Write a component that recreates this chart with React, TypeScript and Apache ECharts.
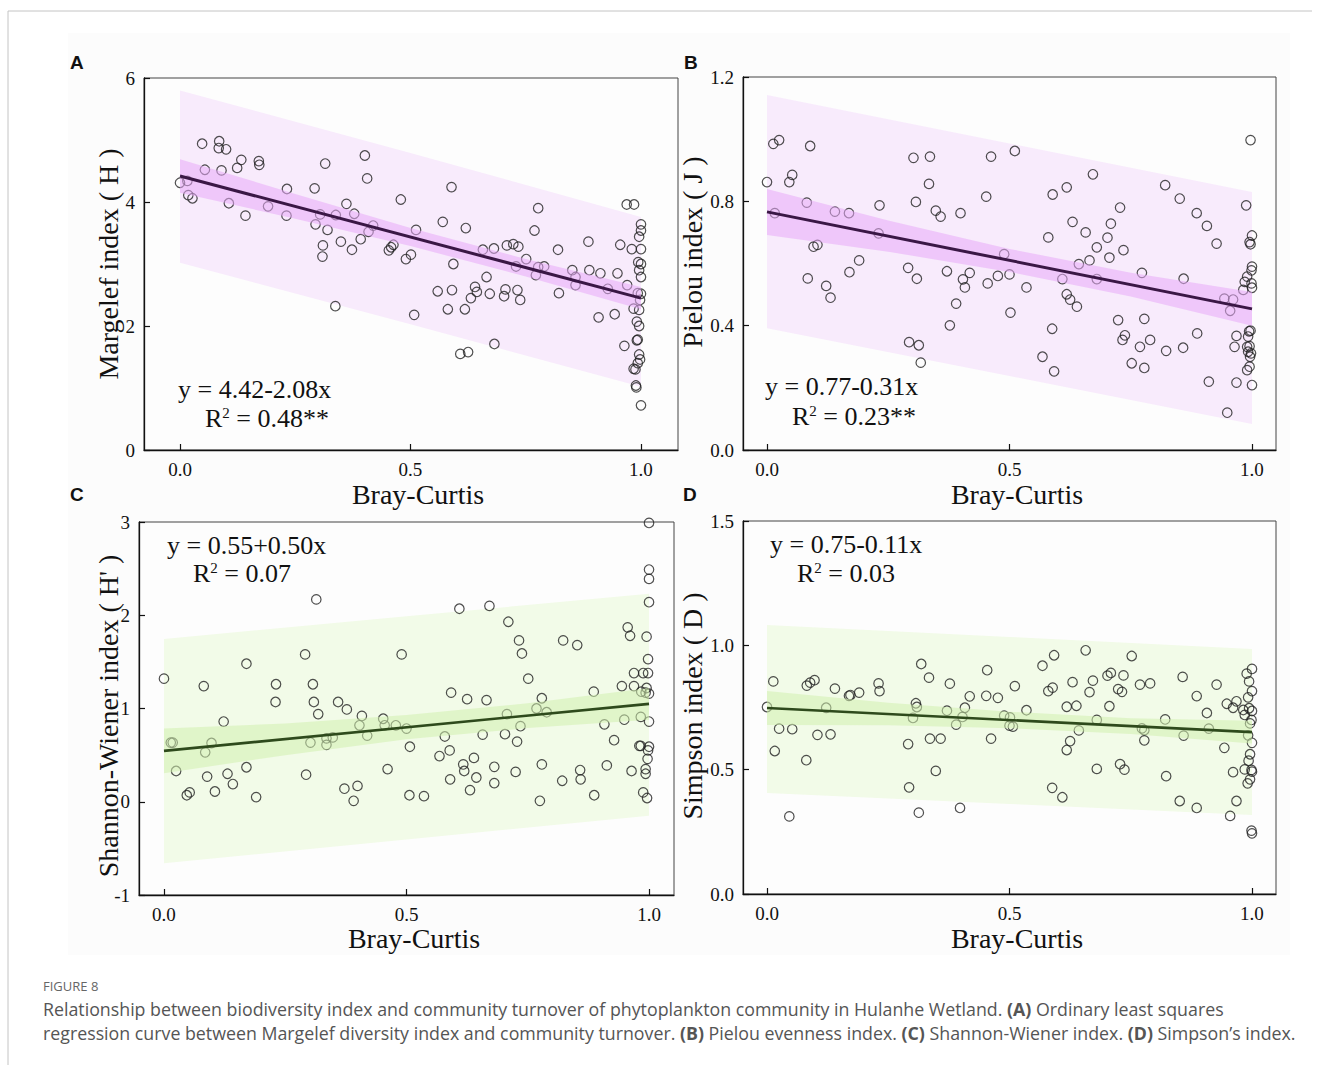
import React, { useEffect, useRef } from "react";
import * as echarts from "echarts";

// ---------- data ----------
const xTicks = [0, 0.5, 1];

const scatterA: number[][] = [
  [0.0, 4.31], [0.016, 4.34], [0.018, 4.11], [0.027, 4.06], [0.048, 4.94], [0.054, 4.52], [0.085, 4.98], [0.084, 4.87],
  [0.1, 4.85], [0.09, 4.51], [0.106, 3.98], [0.124, 4.55], [0.133, 4.68], [0.142, 3.78], [0.171, 4.66], [0.172, 4.6],
  [0.191, 3.93], [0.232, 4.21], [0.231, 3.78], [0.292, 4.22], [0.294, 3.64], [0.304, 3.8], [0.315, 4.62], [0.32, 3.55],
  [0.31, 3.3], [0.309, 3.12], [0.337, 2.32], [0.338, 3.79], [0.349, 3.36], [0.361, 3.97], [0.373, 3.23], [0.378, 3.81],
  [0.392, 3.4], [0.401, 4.75], [0.406, 4.38], [0.409, 3.52], [0.419, 3.62], [0.453, 3.22], [0.458, 3.27], [0.463, 3.31],
  [0.479, 4.04], [0.49, 3.08], [0.501, 3.15], [0.508, 2.18], [0.512, 3.55],
  [0.589, 4.24], [0.57, 3.68], [0.62, 3.58], [0.593, 3.0], [0.559, 2.56], [0.59, 2.58], [0.581, 2.27], [0.618, 2.27],
  [0.608, 1.55], [0.625, 1.58], [0.631, 2.45], [0.64, 2.63], [0.644, 2.55], [0.672, 2.52], [0.665, 2.79], [0.657, 3.23],
  [0.681, 3.25], [0.682, 1.71], [0.703, 2.48], [0.706, 2.59], [0.709, 3.3], [0.723, 3.32], [0.734, 3.28], [0.732, 2.58],
  [0.738, 2.42], [0.729, 2.96], [0.751, 3.08], [0.769, 3.54], [0.777, 3.9], [0.777, 2.95], [0.79, 2.96], [0.772, 2.82],
  [0.822, 2.53], [0.82, 3.23], [0.851, 2.9], [0.858, 2.79], [0.858, 2.66], [0.886, 3.36], [0.888, 2.9], [0.908, 2.14],
  [0.912, 2.85], [0.928, 2.6], [0.943, 2.19], [0.949, 2.85], [0.955, 3.31], [0.964, 1.68], [0.969, 3.96], [0.985, 3.96],
  [0.97, 2.66], [0.98, 3.24], [0.984, 2.28], [0.993, 2.53], [0.991, 2.07], [0.991, 1.77], [0.988, 1.3], [0.989, 1.04],
  [0.99, 1.01], [1.0, 0.72],
  [1.0, 3.64], [1.0, 3.54], [0.996, 3.44], [1.0, 3.24], [0.994, 3.03], [1.0, 3.0], [0.996, 2.9], [1.0, 2.79], [1.0, 2.52],
  [0.998, 2.42], [0.996, 2.26], [0.996, 2.0], [0.993, 1.78], [0.996, 1.54], [0.998, 1.46], [0.993, 1.4], [0.984, 1.31],
];

const scatterB: number[][] = [
  [0.0, 0.862], [0.013, 0.985], [0.025, 0.997], [0.016, 0.762], [0.046, 0.862], [0.052, 0.885], [0.089, 0.978], [0.082, 0.796],
  [0.096, 0.654], [0.104, 0.66], [0.084, 0.552], [0.122, 0.528], [0.131, 0.49], [0.14, 0.767], [0.169, 0.762], [0.17, 0.572],
  [0.19, 0.61], [0.232, 0.787], [0.23, 0.697], [0.291, 0.586], [0.293, 0.347], [0.313, 0.337], [0.317, 0.281], [0.302, 0.94],
  [0.336, 0.944], [0.334, 0.856], [0.307, 0.798], [0.309, 0.551], [0.348, 0.77], [0.358, 0.751], [0.371, 0.575], [0.377, 0.401],
  [0.39, 0.471], [0.399, 0.762], [0.404, 0.549], [0.408, 0.523], [0.418, 0.57], [0.455, 0.536], [0.452, 0.815], [0.462, 0.944],
  [0.476, 0.56], [0.489, 0.63], [0.5, 0.565], [0.502, 0.442],
  [0.511, 0.962], [0.535, 0.523], [0.568, 0.3], [0.58, 0.684], [0.589, 0.822], [0.588, 0.39], [0.592, 0.253], [0.609, 0.55],
  [0.618, 0.845], [0.618, 0.501], [0.625, 0.484], [0.639, 0.461], [0.63, 0.734], [0.643, 0.598], [0.657, 0.7], [0.665, 0.61],
  [0.672, 0.887], [0.68, 0.652], [0.68, 0.55], [0.702, 0.683], [0.706, 0.619], [0.709, 0.728], [0.728, 0.78], [0.735, 0.643],
  [0.724, 0.418], [0.733, 0.354], [0.738, 0.369], [0.752, 0.279], [0.769, 0.332], [0.773, 0.57], [0.778, 0.422], [0.778, 0.264],
  [0.79, 0.354], [0.821, 0.852], [0.823, 0.319], [0.851, 0.809], [0.859, 0.551], [0.858, 0.329], [0.886, 0.762], [0.887, 0.375],
  [0.907, 0.721], [0.911, 0.22], [0.927, 0.664], [0.943, 0.487], [0.949, 0.12], [0.961, 0.484], [0.955, 0.448], [0.964, 0.332],
  [0.968, 0.217], [0.968, 0.367], [0.988, 0.787], [0.997, 0.997],
  [1.0, 0.69], [0.995, 0.669], [0.997, 0.662], [1.0, 0.59], [0.999, 0.578], [0.99, 0.558], [0.985, 0.541], [0.982, 0.515],
  [0.999, 0.536], [1.0, 0.522], [0.994, 0.382], [0.997, 0.384], [0.992, 0.365], [0.99, 0.332], [0.995, 0.334], [0.992, 0.316],
  [0.998, 0.311], [0.996, 0.3], [0.995, 0.268], [0.99, 0.257], [1.0, 0.209],
];

const scatterC: number[][] = [
  [0.0, 1.32], [0.014, 0.635], [0.018, 0.635], [0.025, 0.33], [0.047, 0.07], [0.053, 0.1], [0.082, 1.24], [0.085, 0.53],
  [0.098, 0.63], [0.089, 0.27], [0.105, 0.11], [0.123, 0.86], [0.131, 0.3], [0.142, 0.19], [0.17, 1.48], [0.17, 0.37],
  [0.19, 0.05], [0.231, 1.26], [0.23, 1.07], [0.291, 1.58], [0.293, 0.29], [0.302, 0.635], [0.307, 1.26], [0.309, 1.07],
  [0.318, 0.94], [0.314, 2.17], [0.335, 0.68], [0.335, 0.61], [0.348, 0.69], [0.359, 1.07], [0.377, 0.99], [0.372, 0.14],
  [0.391, 0.01], [0.399, 0.17], [0.403, 0.82], [0.408, 0.92], [0.419, 0.71], [0.452, 0.89], [0.455, 0.82], [0.478, 0.82],
  [0.49, 1.58], [0.461, 0.35], [0.5, 0.785], [0.506, 0.07], [0.507, 0.59],
  [0.536, 0.06], [0.579, 0.7], [0.568, 0.49], [0.589, 0.55], [0.592, 1.17], [0.59, 0.24], [0.609, 2.07], [0.617, 0.4],
  [0.619, 0.33], [0.625, 1.1], [0.631, 0.125], [0.639, 0.47], [0.644, 0.26], [0.657, 0.72], [0.665, 1.09], [0.671, 2.1],
  [0.681, 0.375], [0.681, 0.2], [0.703, 0.725], [0.707, 0.94], [0.71, 1.93], [0.728, 0.645], [0.725, 0.32], [0.732, 1.73],
  [0.738, 1.59], [0.735, 0.81], [0.751, 1.32], [0.768, 1.0], [0.779, 1.11], [0.789, 0.96], [0.779, 0.4], [0.775, 0.01],
  [0.821, 0.225], [0.823, 1.73], [0.852, 1.68], [0.858, 0.34], [0.859, 0.24], [0.886, 1.18], [0.887, 0.07], [0.908, 0.83],
  [0.913, 0.39], [0.928, 0.66], [0.944, 1.24], [0.949, 0.88], [0.956, 1.87], [0.961, 1.78], [0.964, 0.33], [0.969, 1.38],
  [0.969, 1.24], [0.983, 0.6], [0.984, 1.18], [0.983, 0.91],
  [1.0, 2.99], [1.0, 2.49], [1.0, 2.39], [1.0, 2.14], [0.995, 1.77], [0.998, 1.53], [0.988, 1.38], [0.998, 1.38],
  [0.995, 1.22], [1.0, 1.16], [0.993, 1.17], [1.0, 0.86], [0.98, 0.6], [1.0, 0.59], [0.998, 0.55], [0.997, 0.46],
  [0.993, 0.35], [0.993, 0.3], [0.988, 0.1], [0.996, 0.04],
];

const scatterD: number[][] = [
  [0.0, 0.752], [0.013, 0.855], [0.016, 0.575], [0.025, 0.665], [0.046, 0.312], [0.052, 0.663], [0.082, 0.838], [0.089, 0.85],
  [0.098, 0.86], [0.081, 0.538], [0.104, 0.64], [0.122, 0.749], [0.131, 0.642], [0.14, 0.826], [0.169, 0.797], [0.172, 0.8],
  [0.19, 0.81], [0.23, 0.847], [0.232, 0.816], [0.291, 0.603], [0.293, 0.429], [0.301, 0.708], [0.307, 0.767], [0.309, 0.752],
  [0.313, 0.327], [0.318, 0.925], [0.334, 0.87], [0.336, 0.625], [0.348, 0.495], [0.358, 0.625], [0.371, 0.737], [0.377, 0.846],
  [0.39, 0.681], [0.398, 0.346], [0.403, 0.712], [0.408, 0.749], [0.418, 0.795], [0.452, 0.797], [0.454, 0.9], [0.462, 0.625],
  [0.476, 0.789], [0.489, 0.717], [0.5, 0.677],
  [0.501, 0.71], [0.507, 0.673], [0.511, 0.836], [0.535, 0.739], [0.568, 0.918], [0.58, 0.816], [0.589, 0.83], [0.592, 0.96],
  [0.588, 0.427], [0.609, 0.389], [0.618, 0.753], [0.618, 0.579], [0.625, 0.615], [0.63, 0.852], [0.638, 0.757], [0.643, 0.658],
  [0.657, 0.98], [0.665, 0.812], [0.672, 0.858], [0.68, 0.7], [0.68, 0.503], [0.702, 0.878], [0.709, 0.889], [0.706, 0.755],
  [0.724, 0.824], [0.732, 0.813], [0.735, 0.879], [0.728, 0.522], [0.737, 0.5], [0.752, 0.957], [0.769, 0.842], [0.79, 0.847],
  [0.773, 0.666], [0.778, 0.659], [0.778, 0.618], [0.821, 0.702], [0.823, 0.474], [0.851, 0.374], [0.857, 0.873], [0.859, 0.637],
  [0.886, 0.796], [0.886, 0.346], [0.907, 0.728], [0.911, 0.665], [0.927, 0.842], [0.943, 0.588], [0.948, 0.765], [0.961, 0.749],
  [0.968, 0.775], [0.955, 0.314], [0.961, 0.49], [0.968, 0.374],
  [0.989, 0.886], [1.0, 0.905], [0.994, 0.855], [1.0, 0.816], [0.992, 0.791], [0.982, 0.74], [0.994, 0.747], [1.0, 0.736],
  [0.985, 0.72], [0.999, 0.7], [0.996, 0.686], [0.992, 0.638], [1.0, 0.608], [0.996, 0.562], [0.993, 0.536], [0.985, 0.501],
  [0.999, 0.499], [1.0, 0.492], [0.996, 0.461], [0.991, 0.445], [0.999, 0.255], [1.0, 0.244],
];

// regression lines (start, end)
const lineA = [[0, 4.42], [1, 2.45]];
const lineB = [[0, 0.766], [1, 0.454]];
const lineC = [[0, 0.546], [1, 1.05]];
const lineD = [[0, 0.748], [1, 0.651]];

// confidence bands [x, lower, upper]
const confA = [[0, 4.15, 4.69], [0.25, 3.73, 4.13], [0.5, 3.29, 3.58], [0.75, 2.8, 3.08], [1, 2.27, 2.63]];
const confB = [[0, 0.692, 0.84], [0.25, 0.638, 0.738], [0.5, 0.573, 0.647], [0.75, 0.494, 0.57], [1, 0.4, 0.508]];
const confC = [[0, 0.306, 0.786], [0.25, 0.5, 0.84], [0.5, 0.67, 0.93], [0.75, 0.79, 1.055], [1, 0.88, 1.22]];
const confD = [[0, 0.68, 0.816], [0.25, 0.679, 0.769], [0.5, 0.667, 0.733], [0.75, 0.643, 0.707], [1, 0.605, 0.697]];

// prediction bands [x, lower, upper]
const predA = [[0, 3.02, 5.8], [0.5, 2.03, 4.79], [1, 1.02, 3.76]];
const predB = [[0, 0.392, 1.142], [0.5, 0.238, 0.986], [1, 0.084, 0.83]];
const predC = [[0, -0.66, 1.745], [0.5, -0.405, 1.99], [1, -0.15, 2.23]];
const predD = [[0, 0.406, 1.082], [0.5, 0.362, 1.034], [1, 0.318, 0.985]];

const yTitles = ["Margelef index ( H )", "Pielou index ( J )", "Shannon-Wiener index ( H' )", "Simpson index ( D )"];
const xTitle = "Bray-Curtis";
const equations = ["y = 4.42-2.08x", "y = 0.77-0.31x", "y = 0.55+0.50x", "y = 0.75-0.11x"];
const r2Values = [" = 0.48**", " = 0.23**", " = 0.07", " = 0.03"];
const panelLetters = ["A", "B", "C", "D"];

const SERIF = '"Liberation Serif", "Times New Roman", serif';
const PURPLE = { line: "#3a1745", pred: "#f8ebfc", conf: "rgba(232,170,248,0.55)" };
const GREEN = { line: "#2e4a1c", pred: "#f2fbe8", conf: "rgba(210,240,175,0.55)" };

function bandSeries(idx: number, band: number[][], color: string, z: number) {
  return {
    type: "custom",
    xAxisIndex: idx,
    yAxisIndex: idx,
    z,
    silent: true,
    clip: true,
    dimensions: ["x", "lo", "hi"],
    encode: { x: 0, y: [1, 2] },
    data: band,
    renderItem: (params: any, api: any) => {
      if (params.dataIndex !== 0) return null;
      const n = band.length;
      const upper: number[][] = [];
      const lower: number[][] = [];
      for (let i = 0; i < n; i++) {
        const x = api.value(0, i);
        upper.push(api.coord([x, api.value(2, i)]));
        lower.push(api.coord([x, api.value(1, i)]));
      }
      return {
        type: "polygon",
        shape: { points: upper.concat(lower.reverse()) },
        style: { fill: color, stroke: null },
      };
    },
  };
}

function App() {
  const ref = useRef<HTMLDivElement>(null);
  useEffect(() => {
    if (!ref.current) return;
    const chart = echarts.init(ref.current, null, { renderer: "svg" });

    const grids = [
      { left: 144, top: 78, width: 534, height: 372 },
      { left: 743, top: 77, width: 533, height: 373 },
      { left: 139, top: 522, width: 535, height: 373 },
      { left: 743, top: 521, width: 533, height: 373 },
    ].map((g) => ({
      ...g,
      show: true,
      borderColor: "#444",
      borderWidth: 1,
      backgroundColor: "#fdfdfd",
      containLabel: false,
      outerBoundsMode: "none",
    }));

    const xRanges = [
      [-0.0781, 1.0803],
      [-0.0495, 1.0495],
      [-0.0515, 1.0515],
      [-0.0495, 1.0495],
    ];
    const yRanges = [
      [0, 6, 2, 0],
      [0, 1.2, 0.4, 1],
      [-1, 3, 1, 0],
      [0, 1.5, 0.5, 1],
    ];

    const xAxis = xRanges.map((r, i) => ({
      type: "value",
      gridIndex: i,
      min: r[0],
      max: r[1],
      axisLine: { show: true, onZero: false, lineStyle: { color: "#111", width: 1.3 } },
      axisTick: { show: true, inside: true, length: 6, customValues: xTicks, lineStyle: { color: "#111", width: 1.2 } },
      axisLabel: {
        customValues: xTicks,
        formatter: (v: number) => v.toFixed(1),
        margin: 10,
        fontFamily: SERIF,
        fontSize: 19,
        color: "#111",
      },
      splitLine: { show: false },
    }));

    const yAxis = yRanges.map((r, i) => ({
      type: "value",
      gridIndex: i,
      min: r[0],
      max: r[1],
      interval: r[2],
      axisLine: { show: true, onZero: false, lineStyle: { color: "#111", width: 1.3 } },
      axisTick: { show: true, inside: true, length: 6, lineStyle: { color: "#111", width: 1.2 } },
      axisLabel: {
        formatter: (v: number) => (r[3] ? v.toFixed(r[3]) : String(Math.round(v))),
        margin: 9,
        fontFamily: SERIF,
        fontSize: 19,
        color: "#111",
        showMinLabel: true,
        showMaxLabel: true,
      },
      splitLine: { show: false },
    }));

    const scatters = [scatterA, scatterB, scatterC, scatterD];
    const lines = [lineA, lineB, lineC, lineD];
    const confs = [confA, confB, confC, confD];
    const preds = [predA, predB, predC, predD];
    const palettes = [PURPLE, PURPLE, GREEN, GREEN];

    const series: any[] = [];
    for (let i = 0; i < 4; i++) {
      const pal = palettes[i];
      series.push(bandSeries(i, preds[i], pal.pred, 1));
      series.push({
        type: "scatter",
        xAxisIndex: i,
        yAxisIndex: i,
        z: 2,
        symbol: "circle",
        symbolSize: 9.5,
        silent: true,
        itemStyle: { color: "rgba(255,255,255,0)", borderColor: "#222", borderWidth: 1.2 },
        data: scatters[i],
      });
      series.push(bandSeries(i, confs[i], pal.conf, 3));
      series.push({
        type: "line",
        xAxisIndex: i,
        yAxisIndex: i,
        z: 4,
        symbol: "none",
        silent: true,
        lineStyle: { color: pal.line, width: i < 2 ? 3 : 2.6 },
        data: lines[i],
      });
    }

    const txt = (x: number, y: number, text: string, font: string, extra: any = {}) => ({
      type: "text",
      x,
      y,
      silent: true,
      z: 50,
      ...extra,
      style: { text, font, fill: "#111", align: "left", verticalAlign: "middle", ...(extra.style || {}) },
    });

    const eqPos = [
      [178, 389, 205, 418],
      [765, 386, 792, 416],
      [167, 545, 193, 573],
      [770, 544, 797, 573],
    ];
    const letterPos = [
      [70, 62],
      [684, 62],
      [70, 494],
      [683, 494],
    ];
    const xTitlePos = [
      [418, 494],
      [1017, 494],
      [414, 938],
      [1017, 938],
    ];
    const yTitlePos = [
      [108, 264],
      [692, 252],
      [108, 716],
      [692, 706],
    ];

    const graphic: any[] = [
      { type: "rect", z: -10, silent: true, shape: { x: 68, y: 33, width: 1222, height: 922 }, style: { fill: "#fcfcfc" } },
      { type: "line", silent: true, shape: { x1: 8, y1: 11, x2: 1312, y2: 11 }, style: { stroke: "#c4c4c4", lineWidth: 1 } },
      { type: "line", silent: true, shape: { x1: 8, y1: 11, x2: 8, y2: 1065 }, style: { stroke: "#c4c4c4", lineWidth: 1 } },
    ];

    for (let i = 0; i < 4; i++) {
      graphic.push(txt(letterPos[i][0], letterPos[i][1], panelLetters[i], 'bold 19px "Liberation Sans", Arial, sans-serif'));
      graphic.push(
        txt(xTitlePos[i][0], xTitlePos[i][1], xTitle, `28px ${SERIF}`, { style: { align: "center" } })
      );
      graphic.push(
        txt(yTitlePos[i][0], yTitlePos[i][1], yTitles[i], `28px ${SERIF}`, {
          rotation: Math.PI / 2,
          style: { align: "center" },
        })
      );
      graphic.push(txt(eqPos[i][0], eqPos[i][1], equations[i], `26px ${SERIF}`));
      graphic.push({
        type: "text",
        x: eqPos[i][2],
        y: eqPos[i][3],
        silent: true,
        z: 50,
        style: {
          text: "{n|R}{s|2}{n|" + r2Values[i] + "}",
          verticalAlign: "middle",
          align: "left",
          rich: {
            n: { fontFamily: SERIF, fontSize: 26, fill: "#111", color: "#111" },
            s: { fontFamily: SERIF, fontSize: 15, fill: "#111", color: "#111", verticalAlign: "top" },
          },
        },
      });
    }

    const capN = { fontFamily: '"Open Sans", sans-serif', fontSize: 17.8, fill: "#555", color: "#555" };
    const capB = { fontFamily: '"Open Sans", sans-serif', fontSize: 17.8, fontWeight: "bold", fill: "#555", color: "#555" };
    graphic.push(
      txt(43, 986, "FIGURE 8", '13px "Open Sans", sans-serif', { style: { fill: "#666" } })
    );
    graphic.push({
      type: "text",
      x: 43,
      y: 1009,
      silent: true,
      style: {
        text:
          "{n|Relationship between biodiversity index and community turnover of phytoplankton community in Hulanhe Wetland. }{b|(A)}{n| Ordinary least squares}",
        verticalAlign: "middle",
        rich: { n: capN, b: capB },
      },
    });
    graphic.push({
      type: "text",
      x: 43,
      y: 1033,
      silent: true,
      style: {
        text:
          "{n|regression curve between Margelef diversity index and community turnover. }{b|(B)}{n| Pielou evenness index. }{b|(C)}{n| Shannon-Wiener index. }{b|(D)}{n| Simpson\u2019s index.}",
        verticalAlign: "middle",
        rich: { n: capN, b: capB },
      },
    });

    chart.setOption({
      animation: false,
      backgroundColor: "#ffffff",
      grid: grids,
      xAxis,
      yAxis,
      series,
      graphic,
    });

    return () => chart.dispose();
  }, []);

  return (
    <div
      ref={ref}
      style={{ position: "absolute", left: 0, top: 0, width: 1322, height: 1065 }}
    />
  );
}

export default App;
